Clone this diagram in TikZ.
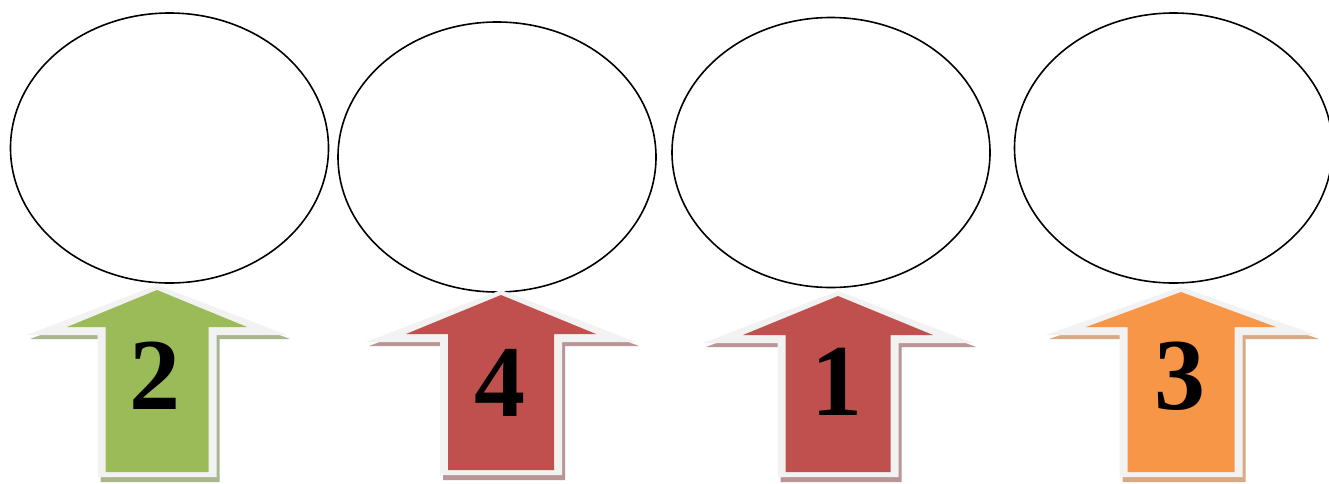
\documentclass[tikz,border=0pt]{standalone}
\usepackage{fontspec}
\setmainfont{Liberation Serif}
\usetikzlibrary{shapes.geometric}
\definecolor{agreen}{HTML}{9BBB59}
\definecolor{agreensh}{HTML}{A9B78F}
\definecolor{ared}{HTML}{C0504D}
\definecolor{aredsh}{HTML}{B99595}
\definecolor{aorange}{HTML}{F79646}
\definecolor{aorangesh}{HTML}{D8A983}
\definecolor{aborder}{HTML}{F2F2F2}
\tikzset{
  x=1pt, y=-1pt,
  ell/.style={draw=black, line width=1.6pt, ellipse, minimum width=318pt, minimum height=270pt, inner sep=0pt},
  num/.style={font=\bfseries\fontsize{102}{102}\selectfont, inner sep=0pt}
}
% #1 cx, #2 tip y, #3 wing half width, #4 wing y, #5 shaft half width, #6 bottom, #7 fill, #8 shadow
\newcommand\blockarrowshape[8]{%
  \fill[#8] ({#1+3},{#2+5}) -- ({#1+#3+3},{#4+4}) -- ({#1+#5+3},{#4+4}) -- ({#1+#5+3},{#6+5})
     -- ({#1-#5+3},{#6+5}) -- ({#1-#5+3},{#4+4}) -- ({#1-#3+3},{#4+4}) -- cycle;
  \fill[aborder] (#1,#2) -- ({#1+#3},#4) -- ({#1+#5},#4) -- ({#1+#5},#6)
     -- ({#1-#5},#6) -- ({#1-#5},#4) -- ({#1-#3},#4) -- cycle;
  \fill[#7] (#1,{#2+5}) -- ({#1+#3-40},{#4-8}) -- ({#1+#5-8},{#4-8}) -- ({#1+#5-8},{#6-5})
     -- ({#1-#5+8},{#6-5}) -- ({#1-#5+8},{#4-8}) -- ({#1-#3+40},{#4-8}) -- cycle;
}
\begin{document}
\begin{tikzpicture}
\useasboundingbox[fill=white] (0,0) rectangle (1329,483);
\node[ell] (e1) at (169.5,148) {};
\node[ell] (e2) at (497,157) {};
\node[ell] (e3) at (831,152.5) {};
\node[ell] (e4) at (1173.5,148) {};
\blockarrowshape{157}{285}{130}{335}{59.5}{477}{agreen}{agreensh}
\blockarrowshape{501}{290}{135}{342}{61}{475}{ared}{aredsh}
\blockarrowshape{838}{291}{135}{343}{60.5}{477}{ared}{aredsh}
\blockarrowshape{1181}{287}{135}{335}{61.5}{477}{aorange}{aorangesh}
\node[num] (n2) at (155,376) {2};
\node[num] (n4) at (500,383) {4};
\node[num] (n1) at (837,382) {1};
\node[num] (n3) at (1180,376) {3};
\end{tikzpicture}
\end{document}
